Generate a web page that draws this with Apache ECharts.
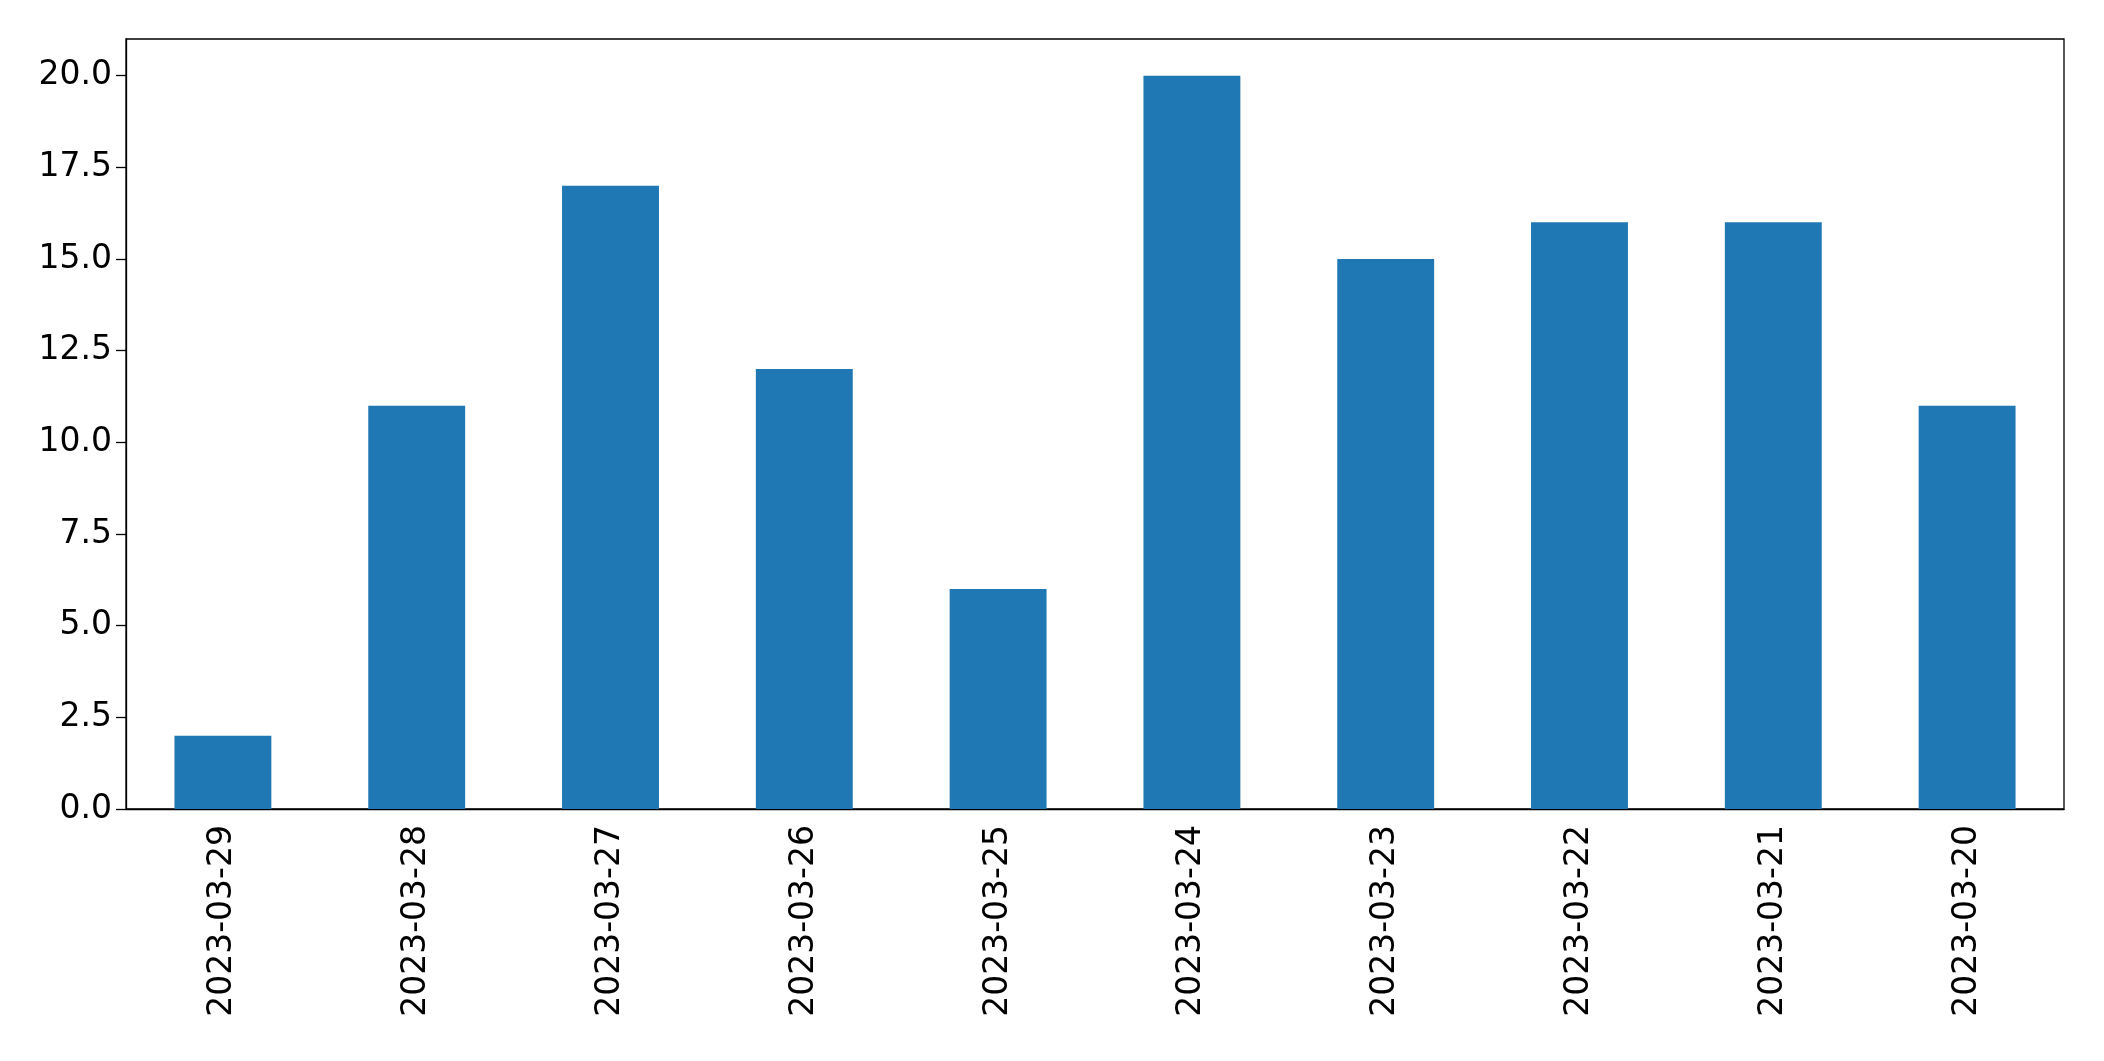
<!DOCTYPE html>
<html><head><meta charset="utf-8">
<script src="https://cdn.jsdelivr.net/npm/echarts@6/dist/echarts.min.js"></script>
<style>html,body{margin:0;padding:0;background:#fff}#c{width:2104px;height:1061px}</style>
</head><body><div id="c"></div>
<script>
const categories = ['2023-03-29','2023-03-28','2023-03-27','2023-03-26','2023-03-25','2023-03-24','2023-03-23','2023-03-22','2023-03-21','2023-03-20'];
const values = [2, 11, 17, 12, 6, 20, 15, 16, 16, 11];
const chart = echarts.init(document.getElementById('c'));
const font = 'DejaVu Sans';
chart.setOption({
  animation: false,
  grid: {left: 126, right: 40, top: 39, bottom: 252, show: true, borderColor: '#000', borderWidth: 1.3, backgroundColor: 'transparent'},
  xAxis: {
    type: 'category', data: categories,
    axisLine: {lineStyle: {color: '#000', width: 1.3}},
    axisTick: {alignWithLabel: true, length: 10, lineStyle: {color: '#000', width: 1.3}},
    axisLabel: {rotate: 90, color: '#000', fontFamily: font, fontSize: 33, margin: 16}
  },
  yAxis: {
    type: 'value', min: 0, max: 21, interval: 2.5,
    splitLine: {show: false},
    axisLine: {show: true, lineStyle: {color: '#000', width: 1.3}},
    axisTick: {show: true, length: 10, lineStyle: {color: '#000', width: 1.3}},
    axisLabel: {color: '#000', fontFamily: font, fontSize: 33, margin: 14,
      formatter: v => v.toFixed(1), showMaxLabel: false}
  },
  series: [{type: 'bar', data: values, barWidth: '50%', itemStyle: {color: '#1f77b4'}}]
});
</script></body></html>
